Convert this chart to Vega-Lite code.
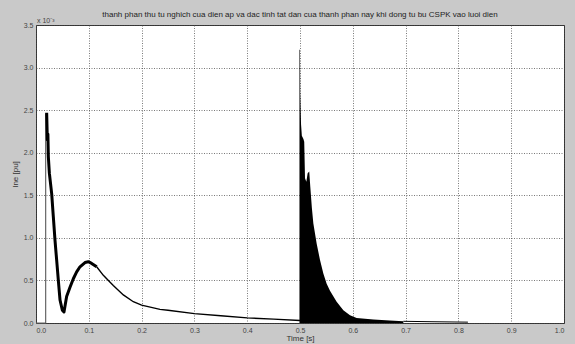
{
  "$schema": "https://vega.github.io/schema/vega-lite/v6.json",
  "width": 528,
  "height": 298,
  "autosize": {"type": "none"},
  "padding": {"left": 36, "top": 25, "right": 11, "bottom": 21},
  "background": "#c9c9c9",
  "view": {"fill": "white", "stroke": "#333333", "strokeWidth": 1},
  "title": {
    "text": "thanh phan thu tu nghich cua dien ap va dac tinh tat dan cua thanh phan nay khi dong tu bu CSPK vao luoi dien",
    "fontSize": 8,
    "font": "Liberation Sans",
    "fontWeight": "normal",
    "color": "#222222",
    "offset": -2,
    "anchor": "middle"
  },
  "config": {
    "axis": {
      "labelFont": "Liberation Sans",
      "titleFont": "Liberation Sans",
      "labelFontSize": 7,
      "titleFontSize": 8,
      "titleFontWeight": "normal",
      "labelColor": "#444444",
      "titleColor": "#333333",
      "ticks": false,
      "domain": false,
      "grid": true,
      "gridDash": [1, 1.5],
      "gridColor": "#444444",
      "gridOpacity": 0.9,
      "gridWidth": 0.8
    }
  },
  "datasets": {
    "step": [
      {"t": 0, "v": 0},
      {"t": 0.0183, "v": 0},
      {"t": 0.0183, "v": 2.46}
    ],
    "curve": [
      {"t": 0.0202, "v": 2.47},
      {"t": 0.0215, "v": 2.15},
      {"t": 0.0225, "v": 2.22},
      {"t": 0.0234, "v": 1.95},
      {"t": 0.0253, "v": 1.76},
      {"t": 0.0297, "v": 1.52},
      {"t": 0.0328, "v": 1.25},
      {"t": 0.036, "v": 0.97},
      {"t": 0.0391, "v": 0.74},
      {"t": 0.0423, "v": 0.5},
      {"t": 0.0455, "v": 0.27},
      {"t": 0.0499, "v": 0.15},
      {"t": 0.053, "v": 0.13},
      {"t": 0.058, "v": 0.31},
      {"t": 0.0644, "v": 0.42},
      {"t": 0.0707, "v": 0.52},
      {"t": 0.077, "v": 0.6},
      {"t": 0.0833, "v": 0.66},
      {"t": 0.0928, "v": 0.71},
      {"t": 0.0991, "v": 0.72},
      {"t": 0.1054, "v": 0.7},
      {"t": 0.1149, "v": 0.66},
      {"t": 0.1275, "v": 0.56},
      {"t": 0.1464, "v": 0.44},
      {"t": 0.1654, "v": 0.33},
      {"t": 0.1843, "v": 0.25},
      {"t": 0.2, "v": 0.21},
      {"t": 0.2348, "v": 0.16},
      {"t": 0.25, "v": 0.15},
      {"t": 0.3, "v": 0.11},
      {"t": 0.35, "v": 0.085},
      {"t": 0.4, "v": 0.06},
      {"t": 0.45, "v": 0.045},
      {"t": 0.5, "v": 0.03}
    ],
    "burst": [
      {"t": 0.499, "v": 0},
      {"t": 0.499, "v": 3.21},
      {"t": 0.5, "v": 3.21},
      {"t": 0.5005, "v": 2.7},
      {"t": 0.502, "v": 2.33},
      {"t": 0.5035, "v": 2.2},
      {"t": 0.5065, "v": 2.16},
      {"t": 0.508, "v": 2.13},
      {"t": 0.5095, "v": 1.7},
      {"t": 0.512, "v": 1.66},
      {"t": 0.5145, "v": 1.76},
      {"t": 0.5175, "v": 1.78},
      {"t": 0.5195, "v": 1.6},
      {"t": 0.5225, "v": 1.35},
      {"t": 0.5253, "v": 1.17},
      {"t": 0.5316, "v": 0.93},
      {"t": 0.5379, "v": 0.74},
      {"t": 0.5442, "v": 0.58},
      {"t": 0.5505, "v": 0.46},
      {"t": 0.5568, "v": 0.38},
      {"t": 0.5694, "v": 0.25},
      {"t": 0.5821, "v": 0.15},
      {"t": 0.5947, "v": 0.09},
      {"t": 0.6073, "v": 0.06},
      {"t": 0.639, "v": 0.04},
      {"t": 0.67, "v": 0.03},
      {"t": 0.6957, "v": 0.02}
    ],
    "tail": [
      {"t": 0.6957, "v": 0.02},
      {"t": 0.75, "v": 0.015},
      {"t": 0.818, "v": 0.01}
    ],
    "exp": [
      {"t": 0, "v": 3.5, "label": "x 10⁻³"}
    ]
  },
  "encoding": {
    "x": {
      "field": "t",
      "type": "quantitative",
      "scale": {"domain": [0, 1], "nice": false},
      "axis": {
        "values": [0, 0.1, 0.2, 0.3, 0.4, 0.5, 0.6, 0.7, 0.8, 0.9, 1],
        "title": "Time [s]",
        "labelPadding": 3,
        "titlePadding": 1
      }
    },
    "y": {
      "field": "v",
      "type": "quantitative",
      "scale": {"domain": [0, 3.5], "nice": false},
      "axis": {
        "values": [0, 0.5, 1, 1.5, 2, 2.5, 3, 3.5],
        "title": "Ine [pu]",
        "labelPadding": 3,
        "titlePadding": 4
      }
    }
  },
  "layer": [
    {
      "data": {"name": "step"},
      "mark": {"type": "line", "color": "#666666", "strokeWidth": 1.2}
    },
    {
      "data": {"name": "curve"},
      "transform": [{"filter": "datum.t <= 0.115"}],
      "mark": {"type": "line", "color": "black", "strokeWidth": 3, "strokeJoin": "round"}
    },
    {
      "data": {"name": "curve"},
      "transform": [{"filter": "datum.t >= 0.114"}],
      "mark": {"type": "line", "color": "black", "strokeWidth": 1.4}
    },
    {
      "data": {"name": "burst"},
      "mark": {"type": "area", "color": "black", "opacity": 1},
      "encoding": {"y2": {"datum": 0}}
    },
    {
      "data": {"name": "tail"},
      "mark": {"type": "line", "color": "black", "strokeWidth": 1}
    },
    {
      "data": {"name": "exp"},
      "mark": {"type": "text", "align": "left", "baseline": "bottom", "dx": 1, "dy": -1, "fontSize": 7, "font": "Liberation Sans", "color": "#444444"},
      "encoding": {"text": {"field": "label"}}
    }
  ]
}
